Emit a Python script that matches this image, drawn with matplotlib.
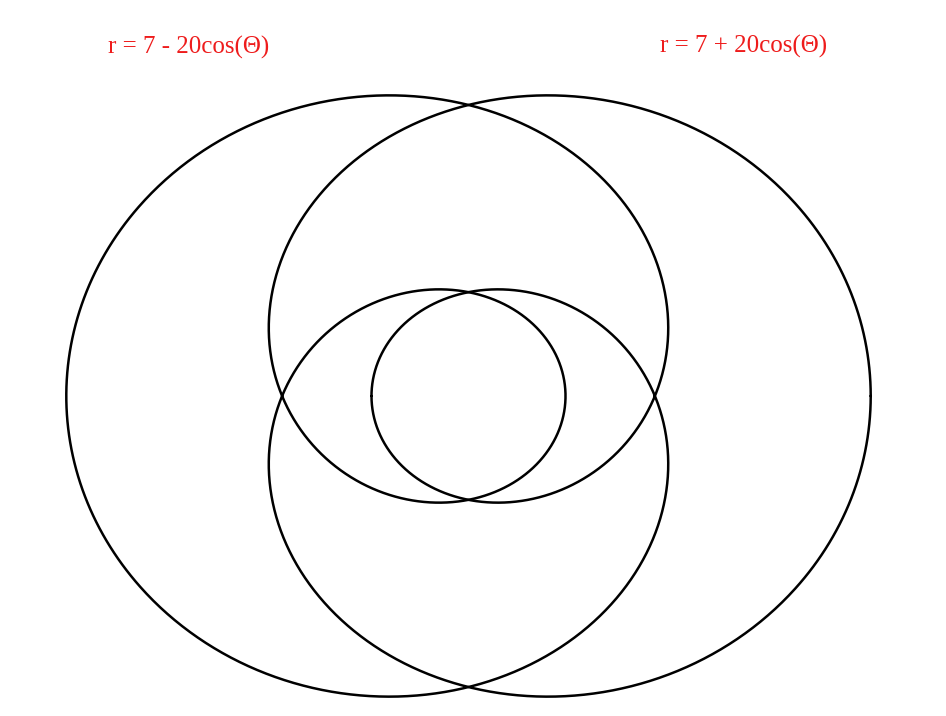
import numpy as np
import matplotlib
matplotlib.use("Agg")
import matplotlib.pyplot as plt

# two limacons r = a + b*cos(theta), each drawn with its pole shifted sideways
labels = ["r = 7 - 20cos(Θ)", "r = 7 + 20cos(Θ)"]
a_vals = [7, 7]
b_vals = [-20, 20]
pole_x = [8.55, -8.55]
label_pos = [(189, 47), (744, 46)]   # pixel centres of the red captions

W, H = 946, 716
fig = plt.figure(figsize=(W / 100, H / 100), dpi=100)
ax = fig.add_axes([0, 0, 1, 1])
ax.set_xlim(-468.5 / 21.8, (W - 468.5) / 21.8)
ax.set_ylim((396 - H) / 19.75, 396 / 19.75)
ax.axis("off")

theta = np.linspace(0, 2 * np.pi, 1441)
for a, b, x0 in zip(a_vals, b_vals, pole_x):
    r = a + b * np.cos(theta)
    ax.plot(x0 + r * np.cos(theta), r * np.sin(theta), color="black", lw=1.8,
            solid_capstyle="round", solid_joinstyle="round")

for text, (px, py) in zip(labels, label_pos):
    fig.text(px / W, 1 - py / H, text, color="#ee1c1c", fontsize=18,
             family="Liberation Serif", ha="center", va="center")

fig.savefig("out.png", dpi=100, facecolor="white")
